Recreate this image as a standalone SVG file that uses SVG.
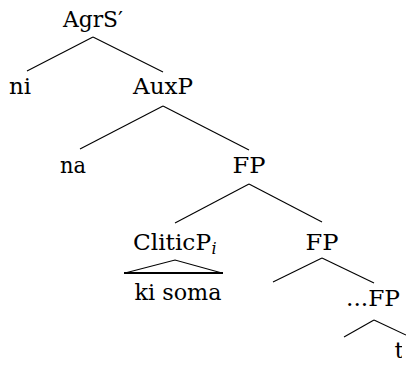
<svg xmlns="http://www.w3.org/2000/svg" width="406" height="366" viewBox="0 0 406 366">
<style>
text{font-family:'DejaVu Serif','Liberation Serif',serif;font-size:23px;fill:#000;text-anchor:middle}
.sub{font-size:16px;font-style:italic}
.e{stroke:#000;stroke-width:1.1;fill:none}
.b{stroke:#000;stroke-width:2.2}
</style>
<rect width="406" height="366" fill="#fff"/>
<g id="edges">
<line class="e" x1="93" y1="37" x2="27" y2="71"/>
<line class="e" x1="93" y1="37" x2="163" y2="72"/>
<line class="e" x1="163" y1="106" x2="80" y2="149"/>
<line class="e" x1="163" y1="106" x2="249" y2="150"/>
<line class="e" x1="249" y1="184" x2="175" y2="223"/>
<line class="e" x1="249" y1="184" x2="322" y2="222"/>
<line class="e" x1="322" y1="258" x2="273" y2="282"/>
<line class="e" x1="322" y1="258" x2="374" y2="283"/>
<line class="e" x1="374" y1="320" x2="344" y2="337"/>
<line class="e" x1="374" y1="320" x2="406" y2="335"/>
</g>
<g id="AgrS"><text x="93" y="27" textLength="60" lengthAdjust="spacingAndGlyphs">AgrS′</text></g>
<g id="ni"><text x="20" y="94" textLength="22" lengthAdjust="spacingAndGlyphs">ni</text></g>
<g id="AuxP"><text x="163" y="94" textLength="60" lengthAdjust="spacingAndGlyphs">AuxP</text></g>
<g id="na"><text x="73" y="173" textLength="26" lengthAdjust="spacingAndGlyphs">na</text></g>
<g id="FP1"><text x="249" y="173" textLength="33" lengthAdjust="spacingAndGlyphs">FP</text></g>
<g id="CliticP"><text x="172" y="250" textLength="78" lengthAdjust="spacingAndGlyphs">CliticP</text><text class="sub" x="214" y="254">i</text></g>
<g id="FP2"><text x="322" y="250" textLength="33" lengthAdjust="spacingAndGlyphs">FP</text></g>
<g id="triangle">
<polyline class="e" points="125,273 175,260 222,273"/>
<line class="b" x1="124" y1="273" x2="223" y2="273"/>
</g>
<g id="kisoma"><text x="178" y="300" textLength="87" lengthAdjust="spacingAndGlyphs">ki soma</text></g>
<g id="FP3"><text x="373" y="306" textLength="54" lengthAdjust="spacingAndGlyphs">...FP</text></g>
<g id="t"><text x="399" y="358">t</text><rect x="402" y="340" width="4" height="20" fill="#fff"/></g>
</svg>
